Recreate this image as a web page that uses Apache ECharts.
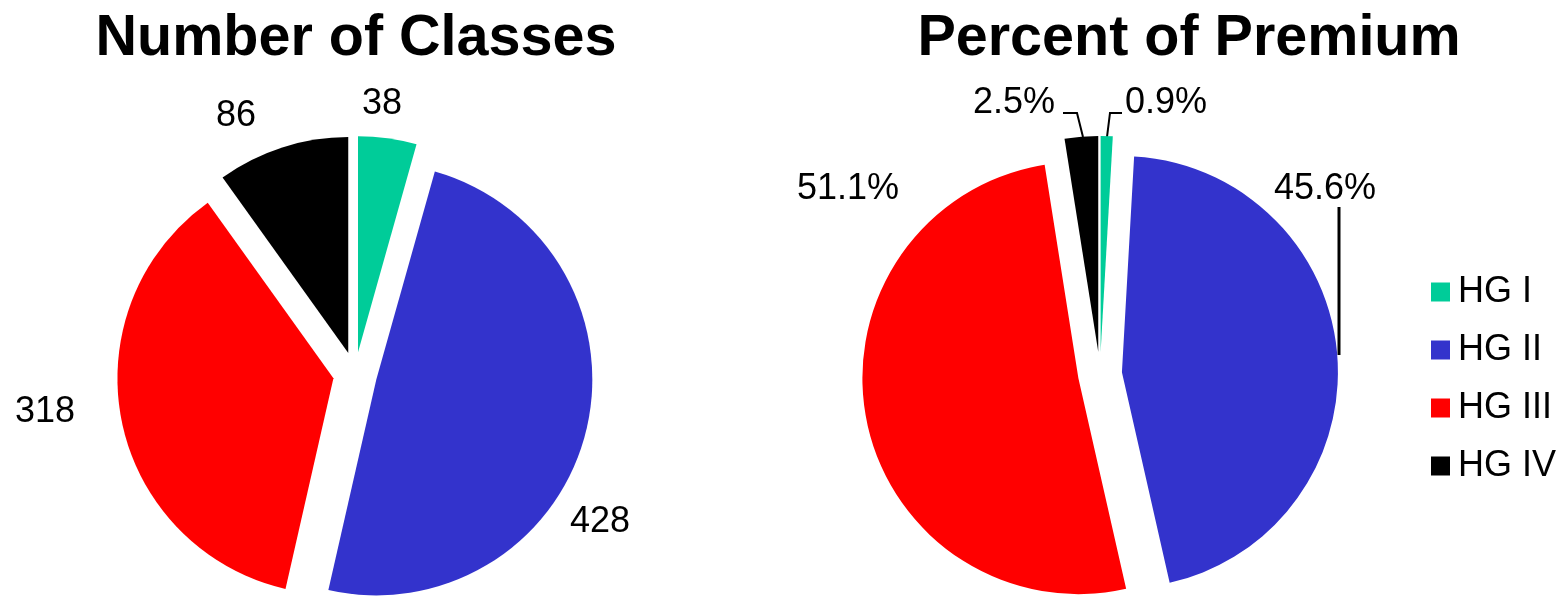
<!DOCTYPE html>
<html>
<head>
<meta charset="utf-8">
<title>Hazard Groups</title>
<script src="https://cdn.jsdelivr.net/npm/echarts@6/dist/echarts.min.js"></script>
<style>
  html, body { margin: 0; padding: 0; background: #fff; }
  #chart { width: 1568px; height: 596px; }
</style>
</head>
<body>
<div id="chart"></div>
<script>
// Hazard groups and their colours
const categories = ['HG I', 'HG II', 'HG III', 'HG IV'];
const colors = ['#00CC99', '#3333CC', '#FF0000', '#000000'];

// Number of classes in each hazard group
const classCounts = [38, 428, 318, 86];

// Share of premium (percent) in each hazard group
const premiumShares = [0.9, 45.6, 51.1, 2.5];

const titles = ['Number of Classes', 'Percent of Premium'];

// ---- layout ----
const FONT = '"Liberation Sans", Arial, Helvetica, sans-serif';
const RADIUS = 216;
const EXPLODE = 22;
const centers = [[355, 374], [1100, 374]];
const titleCenters = [351, 1184];

// label anchor offsets from each pie centre, per hazard group
const labelOffsets = [
  [[27, -270], [245, 148], [-310, 38], [-119, -258]],
  [[66, -271], [225, -185], [-252, -185], [-86, -271]]
];
// leader lines for the percent pie (relative to its centre)
const leaderLines = {
  0: { pts: [[7, -237], [10, -261], [22, -261]], w: 2 },
  1: { pts: [[239, -19], [239, -167], [239, -167]], w: 3 },
  3: { pts: [[-17, -237], [-23, -261], [-37, -261]], w: 2 }
};

// exploded slices (every slice pulled out from the centre)
function slicePie(values, idx) {
  return {
    type: 'pie',
    name: titles[idx],
    center: centers[idx],
    radius: RADIUS,
    startAngle: 90,
    clockwise: true,
    selectedMode: 'multiple',
    selectedOffset: EXPLODE,
    silent: true,
    animation: false,
    emphasis: { disabled: true },
    label: { show: false },
    labelLine: { show: false },
    data: categories.map((name, i) => ({
      name: name,
      value: values[i],
      selected: true,
      itemStyle: { color: colors[i], borderWidth: 0 }
    }))
  };
}

// value labels with their leader lines, laid over the slices
function labelPie(values, idx, fmt) {
  const c = centers[idx];
  return {
    type: 'pie',
    name: titles[idx] + ' labels',
    center: c,
    radius: RADIUS,
    startAngle: 90,
    clockwise: true,
    selectedMode: false,
    silent: true,
    animation: false,
    avoidLabelOverlap: false,
    emphasis: { disabled: true },
    itemStyle: { color: 'rgba(0,0,0,0)', borderWidth: 0 },
    label: {
      show: true,
      position: 'outside',
      formatter: fmt,
      fontFamily: FONT,
      fontSize: 36,
      color: '#000'
    },
    labelLine: { show: false, length: 10, length2: 10, lineStyle: { color: '#000' } },
    labelLayout: function (p) {
      const off = labelOffsets[idx][p.dataIndex];
      const res = {
        x: c[0] + off[0],
        y: c[1] + off[1],
        align: 'center',
        verticalAlign: 'middle'
      };
      const ll = idx === 1 ? leaderLines[p.dataIndex] : null;
      if (ll) {
        res.labelLinePoints = ll.pts.map(q => [c[0] + q[0], c[1] + q[1]]);
      }
      return res;
    },
    data: categories.map((name, i) => {
      const ll = idx === 1 ? leaderLines[i] : null;
      return {
        name: name,
        value: values[i],
        labelLine: { show: !!ll, lineStyle: { color: '#000', width: ll ? ll.w : 1 } }
      };
    })
  };
}

const chart = echarts.init(document.getElementById('chart'), null, { renderer: 'canvas' });
chart.setOption({
  backgroundColor: '#fff',
  animation: false,
  title: titles.map((t, i) => ({
    text: t, left: titleCenters[i], top: 5, textAlign: 'center',
    textStyle: { fontFamily: FONT, fontSize: 57.5, fontWeight: 'bold', color: '#000' }
  })),
  legend: {
    orient: 'vertical',
    left: 1431,
    top: 274,
    padding: 0,
    data: categories,
    icon: 'rect',
    itemWidth: 19,
    itemHeight: 19,
    itemGap: 22,
    selectedMode: false,
    textStyle: { fontFamily: FONT, fontSize: 36, lineHeight: 36, color: '#000', padding: [0, 0, 0, 3] }
  },
  series: [
    slicePie(classCounts, 0),
    slicePie(premiumShares, 1),
    labelPie(classCounts, 0, p => String(p.value)),
    labelPie(premiumShares, 1, p => p.value.toFixed(1) + '%')
  ]
});
</script>
</body>
</html>
